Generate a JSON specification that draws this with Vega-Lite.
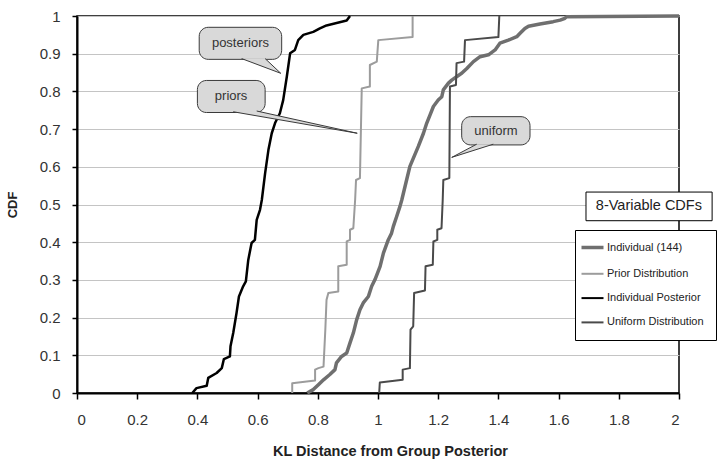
{
  "$schema": "https://vega.github.io/schema/vega-lite/v6.json",
  "width": 602,
  "height": 377,
  "autosize": {"type": "none"},
  "padding": {"left": 77, "top": 16, "right": 40, "bottom": 70},
  "config": {
    "font": "Liberation Sans",
    "view": {"stroke": "black", "strokeWidth": 1.5},
    "axisX": {"domainColor": "black", "domainWidth": 2, "tickColor": "black", "tickWidth": 1.5, "tickSize": 6, "labelFontSize": 15, "labelColor": "#333", "labelPadding": 13, "labelBaseline": "top", "titleFontSize": 14.5, "titleFontWeight": "bold", "titleColor": "#222", "titlePadding": 17, "grid": false},
    "axisY": {"domainColor": "black", "domainWidth": 2, "tickColor": "black", "tickWidth": 1.5, "tickSize": 5, "labelFontSize": 15, "labelColor": "#333", "labelPadding": 12, "labelBaseline": "middle", "titleFontSize": 13, "titleFontWeight": "bold", "titleColor": "#222", "titlePadding": 20, "grid": true, "gridColor": "#c4c4c4", "gridWidth": 1}
  },
  "datasets": {
    "curves": [
      {"series": "Individual (144)", "x": 0.765, "y": 0},
      {"series": "Individual (144)", "x": 0.785, "y": 0.009},
      {"series": "Individual (144)", "x": 0.802, "y": 0.022},
      {"series": "Individual (144)", "x": 0.819, "y": 0.035},
      {"series": "Individual (144)", "x": 0.840, "y": 0.049},
      {"series": "Individual (144)", "x": 0.857, "y": 0.062},
      {"series": "Individual (144)", "x": 0.862, "y": 0.080},
      {"series": "Individual (144)", "x": 0.879, "y": 0.097},
      {"series": "Individual (144)", "x": 0.896, "y": 0.106},
      {"series": "Individual (144)", "x": 0.907, "y": 0.133},
      {"series": "Individual (144)", "x": 0.918, "y": 0.159},
      {"series": "Individual (144)", "x": 0.929, "y": 0.194},
      {"series": "Individual (144)", "x": 0.940, "y": 0.221},
      {"series": "Individual (144)", "x": 0.951, "y": 0.239},
      {"series": "Individual (144)", "x": 0.968, "y": 0.256},
      {"series": "Individual (144)", "x": 0.979, "y": 0.283},
      {"series": "Individual (144)", "x": 0.990, "y": 0.301},
      {"series": "Individual (144)", "x": 1.007, "y": 0.336},
      {"series": "Individual (144)", "x": 1.018, "y": 0.371},
      {"series": "Individual (144)", "x": 1.034, "y": 0.406},
      {"series": "Individual (144)", "x": 1.045, "y": 0.424},
      {"series": "Individual (144)", "x": 1.051, "y": 0.442},
      {"series": "Individual (144)", "x": 1.062, "y": 0.468},
      {"series": "Individual (144)", "x": 1.073, "y": 0.495},
      {"series": "Individual (144)", "x": 1.079, "y": 0.512},
      {"series": "Individual (144)", "x": 1.095, "y": 0.565},
      {"series": "Individual (144)", "x": 1.106, "y": 0.601},
      {"series": "Individual (144)", "x": 1.134, "y": 0.654},
      {"series": "Individual (144)", "x": 1.151, "y": 0.689},
      {"series": "Individual (144)", "x": 1.162, "y": 0.716},
      {"series": "Individual (144)", "x": 1.173, "y": 0.738},
      {"series": "Individual (144)", "x": 1.184, "y": 0.760},
      {"series": "Individual (144)", "x": 1.200, "y": 0.777},
      {"series": "Individual (144)", "x": 1.212, "y": 0.786},
      {"series": "Individual (144)", "x": 1.217, "y": 0.804},
      {"series": "Individual (144)", "x": 1.234, "y": 0.822},
      {"series": "Individual (144)", "x": 1.245, "y": 0.830},
      {"series": "Individual (144)", "x": 1.261, "y": 0.839},
      {"series": "Individual (144)", "x": 1.278, "y": 0.848},
      {"series": "Individual (144)", "x": 1.295, "y": 0.861},
      {"series": "Individual (144)", "x": 1.317, "y": 0.879},
      {"series": "Individual (144)", "x": 1.339, "y": 0.892},
      {"series": "Individual (144)", "x": 1.367, "y": 0.897},
      {"series": "Individual (144)", "x": 1.389, "y": 0.910},
      {"series": "Individual (144)", "x": 1.405, "y": 0.928},
      {"series": "Individual (144)", "x": 1.433, "y": 0.936},
      {"series": "Individual (144)", "x": 1.461, "y": 0.945},
      {"series": "Individual (144)", "x": 1.472, "y": 0.954},
      {"series": "Individual (144)", "x": 1.488, "y": 0.967},
      {"series": "Individual (144)", "x": 1.500, "y": 0.973},
      {"series": "Individual (144)", "x": 1.538, "y": 0.979},
      {"series": "Individual (144)", "x": 1.582, "y": 0.985},
      {"series": "Individual (144)", "x": 1.605, "y": 0.989},
      {"series": "Individual (144)", "x": 1.621, "y": 0.994},
      {"series": "Individual (144)", "x": 1.627, "y": 0.998},
      {"series": "Individual (144)", "x": 2.0, "y": 1.0},
      {"series": "Prior Distribution", "x": 0.715, "y": 0},
      {"series": "Prior Distribution", "x": 0.715, "y": 0.026},
      {"series": "Prior Distribution", "x": 0.791, "y": 0.033},
      {"series": "Prior Distribution", "x": 0.791, "y": 0.062},
      {"series": "Prior Distribution", "x": 0.802, "y": 0.066},
      {"series": "Prior Distribution", "x": 0.819, "y": 0.070},
      {"series": "Prior Distribution", "x": 0.825, "y": 0.168},
      {"series": "Prior Distribution", "x": 0.829, "y": 0.247},
      {"series": "Prior Distribution", "x": 0.835, "y": 0.265},
      {"series": "Prior Distribution", "x": 0.868, "y": 0.269},
      {"series": "Prior Distribution", "x": 0.868, "y": 0.336},
      {"series": "Prior Distribution", "x": 0.896, "y": 0.340},
      {"series": "Prior Distribution", "x": 0.896, "y": 0.402},
      {"series": "Prior Distribution", "x": 0.907, "y": 0.406},
      {"series": "Prior Distribution", "x": 0.907, "y": 0.433},
      {"series": "Prior Distribution", "x": 0.918, "y": 0.437},
      {"series": "Prior Distribution", "x": 0.924, "y": 0.512},
      {"series": "Prior Distribution", "x": 0.927, "y": 0.565},
      {"series": "Prior Distribution", "x": 0.940, "y": 0.570},
      {"series": "Prior Distribution", "x": 0.943, "y": 0.689},
      {"series": "Prior Distribution", "x": 0.946, "y": 0.808},
      {"series": "Prior Distribution", "x": 0.973, "y": 0.813},
      {"series": "Prior Distribution", "x": 0.973, "y": 0.870},
      {"series": "Prior Distribution", "x": 0.996, "y": 0.879},
      {"series": "Prior Distribution", "x": 1.001, "y": 0.936},
      {"series": "Prior Distribution", "x": 1.115, "y": 0.944},
      {"series": "Prior Distribution", "x": 1.115, "y": 1.0},
      {"series": "Individual Posterior", "x": 0.383, "y": 0},
      {"series": "Individual Posterior", "x": 0.397, "y": 0.013},
      {"series": "Individual Posterior", "x": 0.431, "y": 0.019},
      {"series": "Individual Posterior", "x": 0.436, "y": 0.040},
      {"series": "Individual Posterior", "x": 0.464, "y": 0.053},
      {"series": "Individual Posterior", "x": 0.481, "y": 0.066},
      {"series": "Individual Posterior", "x": 0.488, "y": 0.090},
      {"series": "Individual Posterior", "x": 0.508, "y": 0.097},
      {"series": "Individual Posterior", "x": 0.510, "y": 0.124},
      {"series": "Individual Posterior", "x": 0.519, "y": 0.159},
      {"series": "Individual Posterior", "x": 0.530, "y": 0.212},
      {"series": "Individual Posterior", "x": 0.538, "y": 0.256},
      {"series": "Individual Posterior", "x": 0.552, "y": 0.283},
      {"series": "Individual Posterior", "x": 0.561, "y": 0.296},
      {"series": "Individual Posterior", "x": 0.569, "y": 0.353},
      {"series": "Individual Posterior", "x": 0.580, "y": 0.398},
      {"series": "Individual Posterior", "x": 0.591, "y": 0.406},
      {"series": "Individual Posterior", "x": 0.597, "y": 0.459},
      {"series": "Individual Posterior", "x": 0.608, "y": 0.486},
      {"series": "Individual Posterior", "x": 0.614, "y": 0.512},
      {"series": "Individual Posterior", "x": 0.625, "y": 0.583},
      {"series": "Individual Posterior", "x": 0.636, "y": 0.645},
      {"series": "Individual Posterior", "x": 0.647, "y": 0.689},
      {"series": "Individual Posterior", "x": 0.658, "y": 0.716},
      {"series": "Individual Posterior", "x": 0.674, "y": 0.742},
      {"series": "Individual Posterior", "x": 0.685, "y": 0.777},
      {"series": "Individual Posterior", "x": 0.697, "y": 0.839},
      {"series": "Individual Posterior", "x": 0.708, "y": 0.901},
      {"series": "Individual Posterior", "x": 0.724, "y": 0.910},
      {"series": "Individual Posterior", "x": 0.735, "y": 0.936},
      {"series": "Individual Posterior", "x": 0.752, "y": 0.950},
      {"series": "Individual Posterior", "x": 0.785, "y": 0.958},
      {"series": "Individual Posterior", "x": 0.807, "y": 0.967},
      {"series": "Individual Posterior", "x": 0.829, "y": 0.975},
      {"series": "Individual Posterior", "x": 0.896, "y": 0.988},
      {"series": "Individual Posterior", "x": 0.907, "y": 1.0},
      {"series": "Uniform Distribution", "x": 1.004, "y": 0},
      {"series": "Uniform Distribution", "x": 1.006, "y": 0.028},
      {"series": "Uniform Distribution", "x": 1.082, "y": 0.035},
      {"series": "Uniform Distribution", "x": 1.082, "y": 0.062},
      {"series": "Uniform Distribution", "x": 1.106, "y": 0.066},
      {"series": "Uniform Distribution", "x": 1.108, "y": 0.168},
      {"series": "Uniform Distribution", "x": 1.117, "y": 0.177},
      {"series": "Uniform Distribution", "x": 1.120, "y": 0.265},
      {"series": "Uniform Distribution", "x": 1.156, "y": 0.272},
      {"series": "Uniform Distribution", "x": 1.158, "y": 0.336},
      {"series": "Uniform Distribution", "x": 1.182, "y": 0.340},
      {"series": "Uniform Distribution", "x": 1.184, "y": 0.402},
      {"series": "Uniform Distribution", "x": 1.197, "y": 0.406},
      {"series": "Uniform Distribution", "x": 1.197, "y": 0.433},
      {"series": "Uniform Distribution", "x": 1.211, "y": 0.437},
      {"series": "Uniform Distribution", "x": 1.215, "y": 0.512},
      {"series": "Uniform Distribution", "x": 1.217, "y": 0.565},
      {"series": "Uniform Distribution", "x": 1.237, "y": 0.570},
      {"series": "Uniform Distribution", "x": 1.239, "y": 0.813},
      {"series": "Uniform Distribution", "x": 1.259, "y": 0.817},
      {"series": "Uniform Distribution", "x": 1.261, "y": 0.875},
      {"series": "Uniform Distribution", "x": 1.286, "y": 0.879},
      {"series": "Uniform Distribution", "x": 1.289, "y": 0.936},
      {"series": "Uniform Distribution", "x": 1.400, "y": 0.944},
      {"series": "Uniform Distribution", "x": 1.403, "y": 1.0}
    ],
    "boxes": [
      {"label": "posteriors", "x": 0.406, "x2": 0.680, "y": 0.970, "y2": 0.885, "tx": 0.543, "ty": 0.928},
      {"label": "priors", "x": 0.400, "x2": 0.625, "y": 0.829, "y2": 0.744, "tx": 0.512, "ty": 0.787},
      {"label": "uniform", "x": 1.278, "x2": 1.505, "y": 0.733, "y2": 0.658, "tx": 1.392, "ty": 0.696}
    ],
    "tails": [
      {"label": "posteriors", "k": 1, "x": 0.547, "y": 0.887},
      {"label": "posteriors", "k": 2, "x": 0.677, "y": 0.848},
      {"label": "posteriors", "k": 3, "x": 0.625, "y": 0.887},
      {"label": "priors", "k": 1, "x": 0.519, "y": 0.746},
      {"label": "priors", "k": 2, "x": 0.931, "y": 0.689},
      {"label": "priors", "k": 3, "x": 0.597, "y": 0.748},
      {"label": "uniform", "k": 1, "x": 1.383, "y": 0.660},
      {"label": "uniform", "k": 2, "x": 1.245, "y": 0.625},
      {"label": "uniform", "k": 3, "x": 1.328, "y": 0.660}
    ],
    "legendTitle": [
      {"label": "8-Variable CDFs", "x": 1.691, "x2": 2.110, "y": 0.533, "y2": 0.457, "tx": 1.900, "ty": 0.495}
    ]
  },
  "encoding": {
    "x": {"field": "x", "type": "quantitative", "scale": {"domain": [0, 2], "nice": false, "zero": false}, "axis": {"title": "KL Distance from Group Posterior", "values": [0, 0.2, 0.4, 0.6, 0.8, 1, 1.2, 1.4, 1.6, 1.8, 2], "format": "~g", "titleX": 313}},
    "y": {"field": "y", "type": "quantitative", "scale": {"domain": [0, 1], "nice": false, "zero": false}, "axis": {"title": "CDF", "values": [0, 0.1, 0.2, 0.3, 0.4, 0.5, 0.6, 0.7, 0.8, 0.9, 1], "format": "~g"}}
  },
  "layer": [
    {
      "data": {"name": "curves"},
      "transform": [{"filter": "datum.series === 'Individual (144)'"}],
      "mark": {"type": "line", "strokeJoin": "round", "strokeWidth": 3.5},
      "encoding": {
        "color": {"field": "series", "type": "nominal",
          "scale": {"domain": ["Individual (144)", "Prior Distribution", "Individual Posterior", "Uniform Distribution"], "range": ["#6f6f6f", "#9c9c9c", "#000000", "#4a4a4a"]},
          "legend": {"orient": "none", "legendX": 498, "legendY": 214, "title": null, "strokeColor": "black", "fillColor": "white", "padding": 12, "symbolType": "stroke", "symbolSize": 484, "symbolStrokeWidth": 2, "rowPadding": 12.3, "labelFontSize": 11, "labelColor": "#222", "labelOffset": 9,
            "encode": {"symbols": {"update": {"strokeWidth": {"signal": "datum.value === 'Individual (144)' ? 3.5 : 2"}}}}}},
        "order": {"field": "y", "type": "quantitative"}
      }
    },
    {
      "data": {"name": "curves"},
      "transform": [{"filter": "datum.series === 'Prior Distribution' || datum.series === 'Uniform Distribution'"}],
      "mark": {"type": "line", "strokeJoin": "round", "strokeWidth": 2},
      "encoding": {
        "color": {"field": "series", "type": "nominal"},
        "order": {"field": "y", "type": "quantitative"}
      }
    },
    {
      "data": {"name": "curves"},
      "transform": [{"filter": "datum.series === 'Individual Posterior'"}],
      "mark": {"type": "line", "strokeJoin": "round", "strokeWidth": 2.5},
      "encoding": {
        "color": {"field": "series", "type": "nominal"},
        "order": {"field": "y", "type": "quantitative"}
      }
    },
    {
      "data": {"name": "boxes"},
      "mark": {"type": "rect", "fill": "#d9d9d9", "stroke": "#3a3a3a", "strokeWidth": 1, "cornerRadius": 9},
      "encoding": {"x2": {"field": "x2"}, "y2": {"field": "y2"}}
    },
    {
      "data": {"name": "tails"},
      "mark": {"type": "line", "fill": "#d9d9d9", "stroke": "#3a3a3a", "strokeWidth": 1},
      "encoding": {"detail": {"field": "label"}, "order": {"field": "k", "type": "quantitative"}}
    },
    {
      "data": {"name": "boxes"},
      "mark": {"type": "text", "fontSize": 13, "color": "#333"},
      "encoding": {"x": {"field": "tx", "type": "quantitative"}, "y": {"field": "ty", "type": "quantitative"}, "text": {"field": "label"}}
    },
    {
      "data": {"name": "legendTitle"},
      "mark": {"type": "rect", "fill": "white", "stroke": "black", "strokeWidth": 1},
      "encoding": {"x2": {"field": "x2"}, "y2": {"field": "y2"}}
    },
    {
      "data": {"name": "legendTitle"},
      "mark": {"type": "text", "fontSize": 14.5, "color": "#222"},
      "encoding": {"x": {"field": "tx", "type": "quantitative"}, "y": {"field": "ty", "type": "quantitative"}, "text": {"field": "label"}}
    }
  ]
}
